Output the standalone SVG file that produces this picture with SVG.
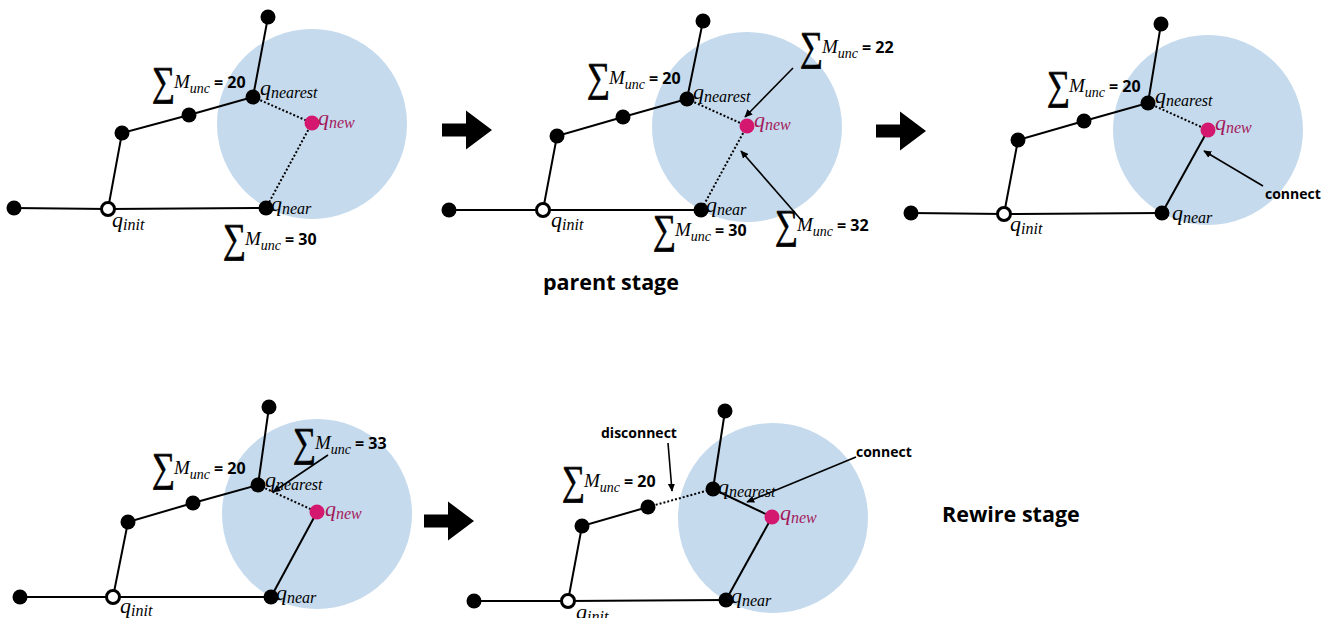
<svg xmlns="http://www.w3.org/2000/svg" width="1333" height="618" viewBox="0 0 1333 618">
<style>
.reg{fill:#c5daed}
.e{stroke:#000;stroke-width:2;fill:none}
.d{stroke:#000;stroke-width:2;fill:none;stroke-dasharray:2 2}
.a{stroke:#000;stroke-width:1.6;fill:none;marker-end:url(#ah)}
.n{fill:#000}
.i{fill:#fff;stroke:#000;stroke-width:3}
.w{fill:#d4176f}
.q{font-family:"Liberation Serif","DejaVu Serif",serif;font-style:italic;font-size:22px;fill:#000}
.qs{font-size:16px}
.qn{fill:#a3195b}
.sig{font-family:"Liberation Serif","DejaVu Serif",serif;font-size:34px;fill:#000;stroke:#000;stroke-width:0.6}
.m{font-family:"Liberation Serif","DejaVu Serif",serif;font-size:19px;font-style:italic;fill:#000}
.mu{font-size:14px}
.num{font-family:"Open Sans","Lato",sans-serif;font-weight:700;font-size:16px;fill:#000}
.t{font-family:"Open Sans","Lato",sans-serif;font-weight:700;font-size:14px;fill:#000}
.st{font-family:"Open Sans","Lato",sans-serif;font-weight:700;font-size:21.5px;fill:#000}
</style>
<defs>
<marker id="ah" viewBox="0 0 10 10" refX="9" refY="5" markerWidth="8" markerHeight="8" orient="auto" markerUnits="userSpaceOnUse">
<path d="M0,0.5 L10,5 L0,9.5 Z" fill="#000"/>
</marker>
<path id="big" d="M0,-6.5 H24 V-19.5 L50,0 L24,19.5 V6.5 H0 Z" fill="#000"/>
<text id="sg" class="sig" transform="translate(0,7) scale(0.95,1.2)">∑</text>
</defs>

<g id="regions">
<circle class="reg" cx="312" cy="124" r="95"/>
<circle class="reg" cx="747" cy="127" r="95"/>
<circle class="reg" cx="1208" cy="130" r="95"/>
<circle class="reg" cx="317" cy="514" r="95"/>
<circle class="reg" cx="773" cy="518" r="95"/>
</g>

<g id="stage-arrows">
<use href="#big" x="442" y="130"/>
<use href="#big" x="876" y="131"/>
<use href="#big" x="424" y="521"/>
</g>

<g id="connectors">
<polyline class="e" points="14,208 108,209 266,208"/>
<polyline class="e" points="108,209 122,133 189,115 253,97 268,17"/>
<line class="d" x1="253" y1="97" x2="312" y2="123"/>
<line class="d" x1="312" y1="123" x2="266" y2="208"/>
<polyline class="e" points="449,210 543,210 701,210"/>
<polyline class="e" points="543,210 557,136 623,117 687,99 703,21"/>
<line class="d" x1="687" y1="99" x2="747" y2="126"/>
<line class="d" x1="747" y1="126" x2="701" y2="210"/>
<line class="a" x1="793" y1="68" x2="745" y2="117"/>
<line class="a" x1="803" y1="222" x2="741" y2="151"/>
<polyline class="e" points="911,213 1004,214 1162,213"/>
<polyline class="e" points="1004,214 1018,140 1084,121 1148,103 1161,24"/>
<line class="d" x1="1148" y1="103" x2="1208" y2="130"/>
<line class="e" x1="1208" y1="130" x2="1162" y2="213"/>
<line class="a" x1="1263" y1="186" x2="1204" y2="151"/>
<polyline class="e" points="20,597 113,597 271,597"/>
<polyline class="e" points="113,597 128,522 193,503 258,485 269,407"/>
<line class="d" x1="258" y1="485" x2="317" y2="512"/>
<line class="e" x1="317" y1="512" x2="271" y2="597"/>
<line class="a" x1="328" y1="455" x2="273" y2="492"/>
<polyline class="e" points="474,601 568,601 726,600"/>
<polyline class="e" points="568,601 582,526 648,507"/>
<line class="d" x1="648" y1="507" x2="713" y2="489"/>
<line class="e" x1="713" y1="489" x2="725" y2="411"/>
<line class="e" x1="713" y1="489" x2="772" y2="517"/>
<line class="e" x1="772" y1="517" x2="726" y2="600"/>
<line class="a" x1="668" y1="443" x2="672" y2="491"/>
<line class="a" x1="856" y1="457" x2="747" y2="502"/>
</g>

<g id="p1-nodes">
<g id="p1-left"><circle class="n" cx="14" cy="208" r="7.5"/></g>
<g id="p1-init"><circle class="i" cx="108" cy="209" r="6.5"/><text class="q" x="112" y="227">q<tspan class="qs" dy="3">init</tspan></text></g>
<g id="p1-near"><circle class="n" cx="266" cy="208" r="7.5"/><text class="q" x="271" y="211">q<tspan class="qs" dy="3">near</tspan></text></g>
<g id="p1-a"><circle class="n" cx="122" cy="133" r="7.5"/></g>
<g id="p1-b"><circle class="n" cx="189" cy="115" r="7.5"/></g>
<g id="p1-nearest"><circle class="n" cx="253" cy="97" r="7.5"/><text class="q" x="260" y="95">q<tspan class="qs" dy="3">nearest</tspan></text></g>
<g id="p1-top"><circle class="n" cx="268" cy="17" r="7.5"/></g>
<g id="p1-new"><circle class="w" cx="312" cy="123" r="7.5"/><text class="q qn" x="318" y="125">q<tspan class="qs" dy="3">new</tspan></text></g>
<g id="p1-lbl20" transform="translate(152,88)"><use href="#sg"/><text class="m" x="22">M<tspan class="mu" dy="5">unc</tspan></text><text class="num" x="62">= 20</text></g>
<g id="p1-lbl30" transform="translate(223,245)"><use href="#sg"/><text class="m" x="22">M<tspan class="mu" dy="5">unc</tspan></text><text class="num" x="62">= 30</text></g>
</g>

<g id="p2-nodes">
<g id="p2-left"><circle class="n" cx="449" cy="210" r="7.5"/></g>
<g id="p2-init"><circle class="i" cx="543" cy="210" r="6.5"/><text class="q" x="551" y="227">q<tspan class="qs" dy="3">init</tspan></text></g>
<g id="p2-near"><circle class="n" cx="701" cy="210" r="7.5"/><text class="q" x="706" y="212">q<tspan class="qs" dy="3">near</tspan></text></g>
<g id="p2-a"><circle class="n" cx="557" cy="136" r="7.5"/></g>
<g id="p2-b"><circle class="n" cx="623" cy="117" r="7.5"/></g>
<g id="p2-nearest"><circle class="n" cx="687" cy="99" r="7.5"/><text class="q" x="693" y="99">q<tspan class="qs" dy="3">nearest</tspan></text></g>
<g id="p2-top"><circle class="n" cx="703" cy="21" r="7.5"/></g>
<g id="p2-new"><circle class="w" cx="747" cy="126" r="7.5"/><text class="q qn" x="754" y="127">q<tspan class="qs" dy="3">new</tspan></text></g>
<g id="p2-lbl20" transform="translate(587,84)"><use href="#sg"/><text class="m" x="22">M<tspan class="mu" dy="5">unc</tspan></text><text class="num" x="62">= 20</text></g>
<g id="p2-lbl22" transform="translate(800,53)"><use href="#sg"/><text class="m" x="22">M<tspan class="mu" dy="5">unc</tspan></text><text class="num" x="62">= 22</text></g>
<g id="p2-lbl30" transform="translate(653,236)"><use href="#sg"/><text class="m" x="22">M<tspan class="mu" dy="5">unc</tspan></text><text class="num" x="62">= 30</text></g>
<g id="p2-lbl32" transform="translate(775,231)"><use href="#sg"/><text class="m" x="22">M<tspan class="mu" dy="5">unc</tspan></text><text class="num" x="62">= 32</text></g>
<text class="st" x="543" y="290">parent stage</text>
</g>

<g id="p3-nodes">
<g id="p3-left"><circle class="n" cx="911" cy="213" r="7.5"/></g>
<g id="p3-init"><circle class="i" cx="1004" cy="214" r="6.5"/><text class="q" x="1010" y="231">q<tspan class="qs" dy="3">init</tspan></text></g>
<g id="p3-near"><circle class="n" cx="1162" cy="213" r="7.5"/><text class="q" x="1172" y="220">q<tspan class="qs" dy="3">near</tspan></text></g>
<g id="p3-a"><circle class="n" cx="1018" cy="140" r="7.5"/></g>
<g id="p3-b"><circle class="n" cx="1084" cy="121" r="7.5"/></g>
<g id="p3-nearest"><circle class="n" cx="1148" cy="103" r="7.5"/><text class="q" x="1155" y="103">q<tspan class="qs" dy="3">nearest</tspan></text></g>
<g id="p3-top"><circle class="n" cx="1161" cy="24" r="7.5"/></g>
<g id="p3-new"><circle class="w" cx="1208" cy="130" r="7.5"/><text class="q qn" x="1215" y="130">q<tspan class="qs" dy="3">new</tspan></text></g>
<g id="p3-lbl20" transform="translate(1047,92)"><use href="#sg"/><text class="m" x="22">M<tspan class="mu" dy="5">unc</tspan></text><text class="num" x="62">= 20</text></g>
<text class="t" x="1265" y="199">connect</text>
</g>

<g id="p4-nodes">
<g id="p4-left"><circle class="n" cx="20" cy="597" r="7.5"/></g>
<g id="p4-init"><circle class="i" cx="113" cy="597" r="6.5"/><text class="q" x="120" y="613">q<tspan class="qs" dy="3">init</tspan></text></g>
<g id="p4-near"><circle class="n" cx="271" cy="597" r="7.5"/><text class="q" x="276" y="600">q<tspan class="qs" dy="3">near</tspan></text></g>
<g id="p4-a"><circle class="n" cx="128" cy="522" r="7.5"/></g>
<g id="p4-b"><circle class="n" cx="193" cy="503" r="7.5"/></g>
<g id="p4-nearest"><circle class="n" cx="258" cy="485" r="7.5"/><text class="q" x="265" y="487">q<tspan class="qs" dy="3">nearest</tspan></text></g>
<g id="p4-top"><circle class="n" cx="269" cy="407" r="7.5"/></g>
<g id="p4-new"><circle class="w" cx="317" cy="512" r="7.5"/><text class="q qn" x="325" y="516">q<tspan class="qs" dy="3">new</tspan></text></g>
<g id="p4-lbl20" transform="translate(152,474)"><use href="#sg"/><text class="m" x="22">M<tspan class="mu" dy="5">unc</tspan></text><text class="num" x="62">= 20</text></g>
<g id="p4-lbl33" transform="translate(293,449)"><use href="#sg"/><text class="m" x="22">M<tspan class="mu" dy="5">unc</tspan></text><text class="num" x="62">= 33</text></g>
</g>

<g id="p5-nodes">
<g id="p5-left"><circle class="n" cx="474" cy="601" r="7.5"/></g>
<g id="p5-init"><circle class="i" cx="568" cy="601" r="6.5"/><text class="q" x="576" y="619">q<tspan class="qs" dy="3">init</tspan></text></g>
<g id="p5-near"><circle class="n" cx="726" cy="600" r="7.5"/><text class="q" x="731" y="603">q<tspan class="qs" dy="3">near</tspan></text></g>
<g id="p5-a"><circle class="n" cx="582" cy="526" r="7.5"/></g>
<g id="p5-b"><circle class="n" cx="648" cy="507" r="7.5"/></g>
<g id="p5-nearest"><circle class="n" cx="713" cy="489" r="7.5"/><text class="q" x="718" y="494">q<tspan class="qs" dy="3">nearest</tspan></text></g>
<g id="p5-top"><circle class="n" cx="725" cy="411" r="7.5"/></g>
<g id="p5-new"><circle class="w" cx="772" cy="517" r="7.5"/><text class="q qn" x="780" y="520">q<tspan class="qs" dy="3">new</tspan></text></g>
<g id="p5-lbl20" transform="translate(562,487)"><use href="#sg"/><text class="m" x="22">M<tspan class="mu" dy="5">unc</tspan></text><text class="num" x="62">= 20</text></g>
<text class="t" x="601" y="438">disconnect</text>
<text class="t" x="856" y="457">connect</text>
<text class="st" x="942" y="522">Rewire stage</text>
</g>
</svg>
